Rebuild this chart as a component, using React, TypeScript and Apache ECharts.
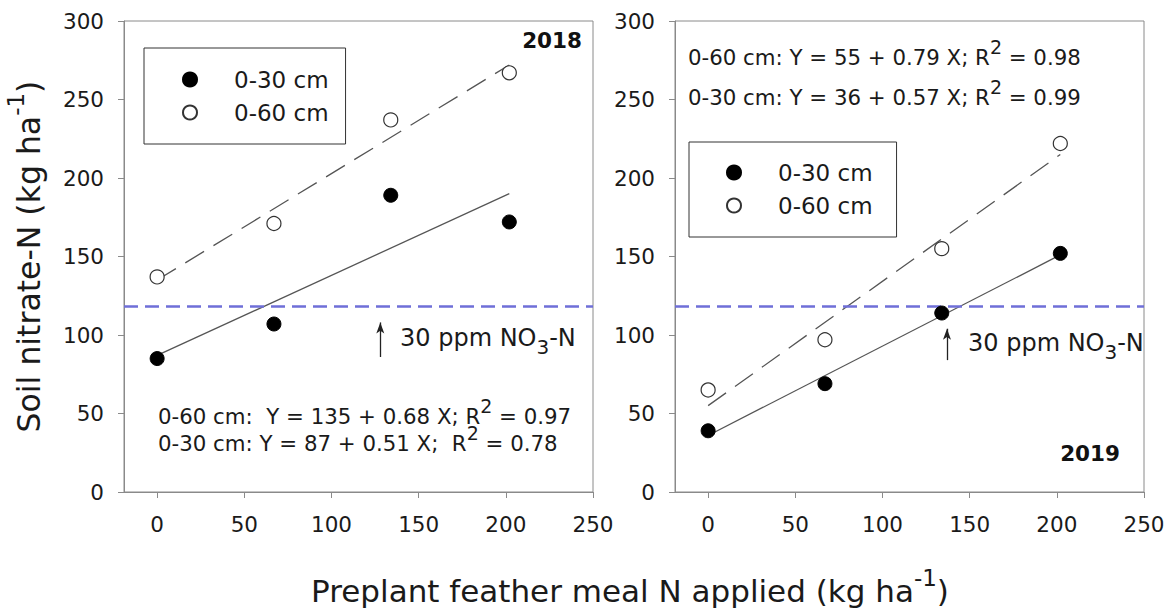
import React, { useEffect, useRef } from "react";
import * as echarts from "echarts";

// ---- data ----
const nRates = [0, 67, 134, 202];
const y2018_030 = [85, 107, 189, 172];
const y2018_060 = [137, 171, 237, 267];
const y2019_030 = [39, 69, 114, 152];
const y2019_060 = [65, 97, 155, 222];
const fitX = [0, 202];
const fit2018_030 = [87, 190];
const fit2018_060 = [135, 272];
const fit2019_030 = [36, 151];
const fit2019_060 = [55, 215];
const xTicks = [0, 50, 100, 150, 200, 250];
const thresholdN = 118; // 30 ppm NO3-N
const arrow2018 = [128, 86, 108];
const arrow2019 = [137, 84, 104];
const seriesNames = ["0-30 cm", "0-60 cm"];

const FONT = "DejaVu Sans";
const AXIS = "#8a8a8a";
const TXT = "#1a1a1a";

const pairs = (xs: number[], ys: number[]) => xs.map((x, i) => [x, ys[i]]);

function makeAxes(i: number) {
  const x = {
    type: "value",
    gridIndex: i,
    min: -19,
    max: 250,
    axisLine: { show: true, onZero: false, lineStyle: { color: AXIS, width: 1 } },
    axisTick: { show: true, length: 6, customValues: xTicks, lineStyle: { color: AXIS } },
    axisLabel: { customValues: xTicks, margin: 21, fontSize: 21.5, fontFamily: FONT, color: TXT },
    splitLine: { show: false },
  };
  const y: any = {
    type: "value",
    gridIndex: i,
    min: 0,
    max: 300,
    interval: 50,
    axisLine: { show: true, onZero: false, lineStyle: { color: AXIS, width: 1 } },
    axisTick: { show: true, length: 6, lineStyle: { color: AXIS } },
    axisLabel: { margin: 20, fontSize: 21.5, fontFamily: FONT, color: TXT },
    splitLine: { show: false },
  };
  if (i === 0) {
    y.name = "{a|Soil nitrate-N (kg ha}{s|-1}{a|)}";
    y.nameLocation = "middle";
    y.nameGap = 70;
    y.nameTextStyle = {
      rich: {
        a: { fontSize: 31.5, lineHeight: 50, fontFamily: FONT, color: TXT },
        s: { fontSize: 23, verticalAlign: "top", fontFamily: FONT, color: TXT },
      },
    };
  }
  return { x, y };
}

function plotSeries(i: number, d030: number[], d060: number[], f030: number[], f060: number[], arrow: number[]) {
  return [
    {
      name: "fit030_" + i,
      type: "line",
      xAxisIndex: i,
      yAxisIndex: i,
      data: pairs(fitX, f030),
      symbol: "none",
      lineStyle: { color: "#555", width: 1.3 },
      z: 2,
      markLine: {
        silent: true,
        animation: false,
        symbol: ["none", "none"],
        label: { show: false },
        data: [
          { yAxis: thresholdN, lineStyle: { color: "#6f6fd8", width: 2.5, type: [14, 7] } },
          [
            { coord: [arrow[0], arrow[1]], symbol: "none", lineStyle: { color: "#222", width: 1.3, type: "solid" } },
            { coord: [arrow[0], arrow[2]], symbol: "arrow", symbolSize: [6, 11] },
          ],
        ],
      },
    },
    {
      name: "fit060_" + i,
      type: "line",
      xAxisIndex: i,
      yAxisIndex: i,
      data: pairs(fitX, f060),
      symbol: "none",
      lineStyle: { color: "#555", width: 1.3, type: [22, 11] },
      z: 2,
    },
    {
      name: seriesNames[0],
      type: "scatter",
      xAxisIndex: i,
      yAxisIndex: i,
      data: pairs(nRates, d030),
      symbol: "circle",
      symbolSize: 14,
      itemStyle: { color: "#000", borderColor: "#000", borderWidth: 1, opacity: 1 },
      z: 5,
    },
    {
      name: seriesNames[1],
      type: "scatter",
      xAxisIndex: i,
      yAxisIndex: i,
      data: pairs(nRates, d060),
      symbol: "circle",
      symbolSize: 14,
      itemStyle: { color: "#fff", borderColor: "#333", borderWidth: 1.2, opacity: 1 },
      z: 5,
    },
  ];
}

const legendBase = {
  data: seriesNames,
  orient: "vertical",
  itemWidth: 78,
  itemHeight: 14,
  itemGap: 10,
  borderColor: "#333",
  borderWidth: 1,
  borderRadius: 0,
  backgroundColor: "#fff",
  selectedMode: false,
  textStyle: { fontSize: 23, lineHeight: 22, fontFamily: FONT, color: TXT },
};

const eqRich = {
  m: { fontSize: 21.3, lineHeight: 40, fontFamily: FONT, fill: TXT },
  s: { fontSize: 19, verticalAlign: "top", fontFamily: FONT, fill: TXT },
};
const noRich = {
  m: { fontSize: 24, lineHeight: 37, fontFamily: FONT, fill: TXT },
  b: { fontSize: 20, verticalAlign: "bottom", fontFamily: FONT, fill: TXT },
};

function eqText(x: number, y: number, text: string) {
  return { type: "text", x, y, silent: true, style: { text, rich: eqRich, verticalAlign: "middle", align: "left" } };
}

export default function App() {
  const ref = useRef<HTMLDivElement>(null);
  useEffect(() => {
    if (!ref.current) return;
    const chart = echarts.init(ref.current, null, { renderer: "svg" });
    const a0 = makeAxes(0);
    const a1 = makeAxes(1);
    chart.setOption({
      animation: false,
      backgroundColor: "#fff",
      grid: [
        { left: 124, top: 21, width: 469, height: 471, show: true, borderColor: AXIS, borderWidth: 1, backgroundColor: "transparent" },
        { left: 675, top: 21, width: 469, height: 471, show: true, borderColor: AXIS, borderWidth: 1, backgroundColor: "transparent" },
      ],
      xAxis: [a0.x, a1.x],
      yAxis: [a0.y, a1.y],
      legend: [
        { ...legendBase, left: 144, top: 48, padding: [20, 17, 20, 38] },
        { ...legendBase, left: 689, top: 142, padding: [19, 24, 20, 37] },
      ],
      series: [
        ...plotSeries(0, y2018_030, y2018_060, fit2018_030, fit2018_060, arrow2018),
        ...plotSeries(1, y2019_030, y2019_060, fit2019_030, fit2019_060, arrow2019),
      ],
      graphic: [
        { type: "text", x: 582, y: 40, silent: true, style: { text: "2018", fontSize: 21.5, fontWeight: "bold", fontFamily: FONT, fill: "#111", align: "right", verticalAlign: "middle" } },
        { type: "text", x: 1120, y: 453, silent: true, style: { text: "2019", fontSize: 21.5, fontWeight: "bold", fontFamily: FONT, fill: "#111", align: "right", verticalAlign: "middle" } },
        eqText(158, 416, "{m|0-60 cm:  Y = 135 + 0.68 X; R}{s|2}{m| = 0.97}"),
        eqText(158, 443, "{m|0-30 cm: Y = 87 + 0.51 X;  R}{s|2}{m| = 0.78}"),
        eqText(688, 57, "{m|0-60 cm: Y = 55 + 0.79 X; R}{s|2}{m| = 0.98}"),
        eqText(688, 97, "{m|0-30 cm: Y = 36 + 0.57 X; R}{s|2}{m| = 0.99}"),
        { type: "text", x: 400, y: 338, silent: true, style: { text: "{m|30 ppm NO}{b|3}{m|-N}", rich: noRich, verticalAlign: "middle", align: "left" } },
        { type: "text", x: 968, y: 343, silent: true, style: { text: "{m|30 ppm NO}{b|3}{m|-N}", rich: noRich, verticalAlign: "middle", align: "left" } },
        {
          type: "text",
          x: 630,
          y: 591,
          silent: true,
          style: {
            text: "{a|Preplant feather meal N applied (kg ha}{s|-1}{a|)}",
            rich: {
              a: { fontSize: 31, lineHeight: 50, fontFamily: FONT, fill: TXT },
              s: { fontSize: 23, verticalAlign: "top", fontFamily: FONT, fill: TXT },
            },
            align: "center",
            verticalAlign: "middle",
          },
        },
      ],
    });
    return () => chart.dispose();
  }, []);
  return <div ref={ref} style={{ position: "fixed", left: 0, top: 0, width: 1170, height: 612 }} />;
}
